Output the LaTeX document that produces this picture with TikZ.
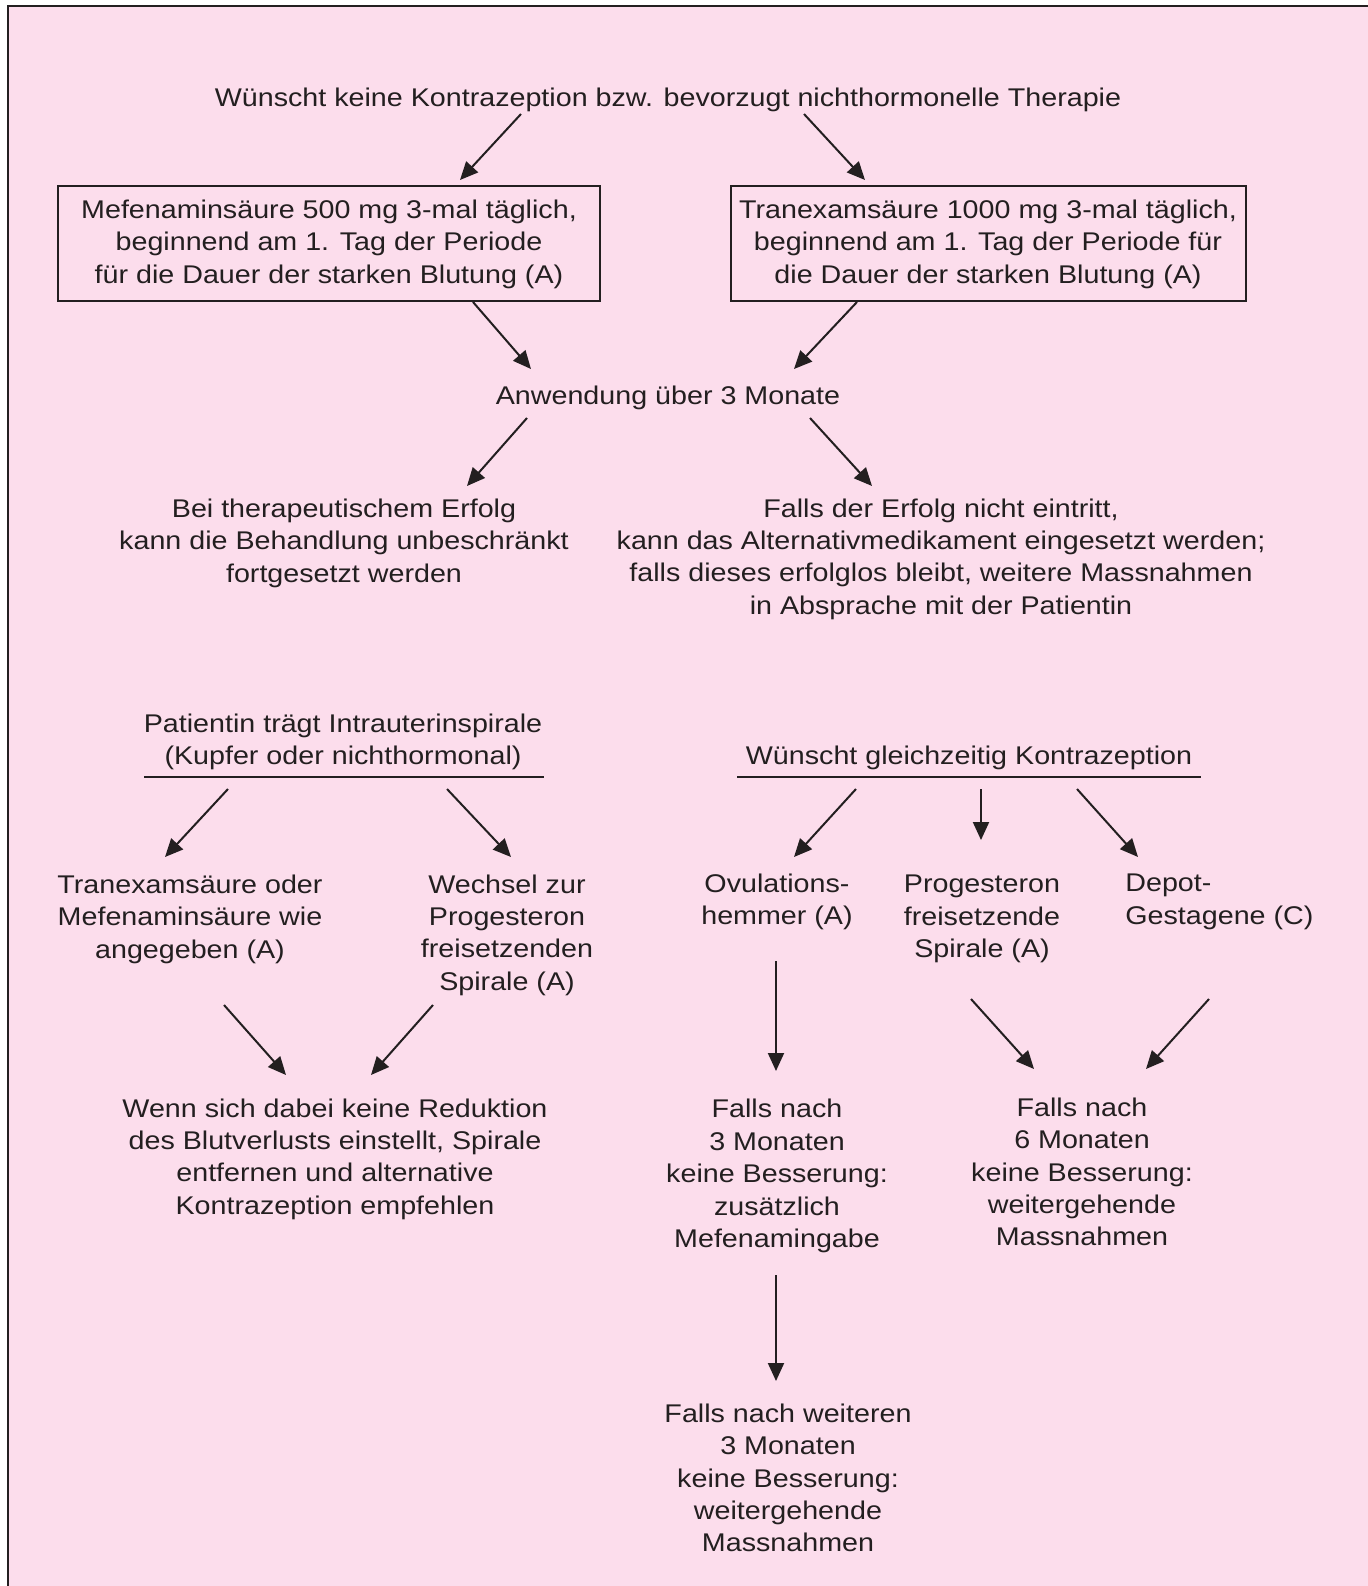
\documentclass[tikz,border=0pt]{standalone}
\usepackage{fontspec}
\setmainfont{Liberation Sans}[FakeStretch=1.12]
\usetikzlibrary{arrows.meta}
\definecolor{bgpink}{RGB}{252,221,236}
\definecolor{ink}{RGB}{35,31,32}
\tikzset{
  txt/.style={font=\fontsize{12.8pt}{16.2pt}\selectfont, text=ink, align=center, inner sep=0pt},
  boxed/.style={txt, draw=ink, line width=1pt, minimum height=57.5pt},
  arr/.style={draw=ink, line width=1pt, -{Triangle[length=9pt,width=8pt]}},
  rule/.style={draw=ink, line width=1pt}
}
\begin{document}
\begin{tikzpicture}[x=0.5pt,y=-0.5pt]
\useasboundingbox (0,0) rectangle (1368,1586);
\fill[white] (0,0) rectangle (1368,1586);
\fill[bgpink] (8,6) rectangle (1368,1586);
\draw[rule] (1368,6) -- (8,6) -- (8,1586);

% top section
\node[txt] (title) at (668,100) {Wünscht keine Kontrazeption bzw. bevorzugt nichthormonelle Therapie};
\node[boxed, minimum width=271pt] (mef) at (329,243) {};
\node[txt] (meft) at (329,244) {Mefenaminsäure 500 mg 3-mal täglich,\\beginnend am 1. Tag der Periode\\für die Dauer der starken Blutung (A)};
\node[boxed, minimum width=257.5pt] (tra) at (988,243) {};
\node[txt] (trat) at (988,244) {Tranexamsäure 1000 mg 3-mal täglich,\\beginnend am 1. Tag der Periode für\\die Dauer der starken Blutung (A)};
\node[txt] (anw) at (668,398) {Anwendung über 3 Monate};
\node[txt] (erfolg) at (344,543) {Bei therapeutischem Erfolg\\kann die Behandlung unbeschränkt\\fortgesetzt werden};
\node[txt] (nerfolg) at (941,559) {Falls der Erfolg nicht eintritt,\\kann das Alternativmedikament eingesetzt werden;\\falls dieses erfolglos bleibt, weitere Massnahmen\\in Absprache mit der Patientin};

\coordinate (t1) at (521,114); \coordinate (m1) at (460,180);
\coordinate (t2) at (804,114); \coordinate (m2) at (865,180);
\coordinate (b1) at (473,302); \coordinate (n1) at (531,369);
\coordinate (b2) at (857,302); \coordinate (n2) at (794,369);
\coordinate (w1) at (527,418); \coordinate (e1) at (467,486);
\coordinate (w2) at (810,418); \coordinate (e2) at (872,486);
\draw[arr] (t1) -- (m1);
\draw[arr] (t2) -- (m2);
\draw[arr] (b1) -- (n1);
\draw[arr] (b2) -- (n2);
\draw[arr] (w1) -- (e1);
\draw[arr] (w2) -- (e2);

% lower left section
\node[txt] (iup) at (343,742) {Patientin trägt Intrauterinspirale\\(Kupfer oder nichthormonal)};
\coordinate (ul1) at (144,777); \coordinate (ul2) at (544,777);
\draw[rule] (ul1) -- (ul2);
\node[txt] (tranmef) at (190,919) {Tranexamsäure oder\\Mefenaminsäure wie\\angegeben (A)};
\node[txt] (wechsel) at (507,935) {Wechsel zur\\Progesteron\\freisetzenden\\Spirale (A)};
\node[txt] (wenn) at (335,1159) {Wenn sich dabei keine Reduktion\\des Blutverlusts einstellt, Spirale\\entfernen und alternative\\Kontrazeption empfehlen};
\coordinate (i1) at (228,789); \coordinate (j1) at (165,857);
\coordinate (i2) at (447,789); \coordinate (j2) at (511,857);
\coordinate (k1) at (224,1005); \coordinate (l1) at (286,1075);
\coordinate (k2) at (433,1005); \coordinate (l2) at (371,1075);
\draw[arr] (i1) -- (j1);
\draw[arr] (i2) -- (j2);
\draw[arr] (k1) -- (l1);
\draw[arr] (k2) -- (l2);

% lower right section
\node[txt] (kontra) at (969,758) {Wünscht gleichzeitig Kontrazeption};
\coordinate (ur1) at (737,777); \coordinate (ur2) at (1201,777);
\draw[rule] (ur1) -- (ur2);
\node[txt] (ovu) at (777,902) {Ovulations-\\hemmer (A)};
\node[txt] (prog) at (982,919) {Progesteron\\freisetzende\\Spirale (A)};
\node[txt, align=left, anchor=west] (depot) at (1125,902) {Depot-\\Gestagene (C)};
\node[txt] (f3) at (777,1176) {Falls nach\\3 Monaten\\keine Besserung:\\zusätzlich\\Mefenamingabe};
\node[txt] (f6) at (1082,1172) {Falls nach\\6 Monaten\\keine Besserung:\\weitergehende\\Massnahmen};
\node[txt] (fw) at (788,1478) {Falls nach weiteren\\3 Monaten\\keine Besserung:\\weitergehende\\Massnahmen};
\coordinate (p1) at (856,789); \coordinate (q1) at (794,857);
\coordinate (p2) at (981,789); \coordinate (q2) at (981,840);
\coordinate (p3) at (1077,789); \coordinate (q3) at (1138,857);
\coordinate (r1) at (776,961); \coordinate (s1) at (776,1071);
\coordinate (r2) at (971,999); \coordinate (s2) at (1034,1069);
\coordinate (r3) at (1209,999); \coordinate (s3) at (1146,1069);
\coordinate (r4) at (776,1275); \coordinate (s4) at (776,1381);
\draw[arr] (p1) -- (q1);
\draw[arr] (p2) -- (q2);
\draw[arr] (p3) -- (q3);
\draw[arr] (r1) -- (s1);
\draw[arr] (r2) -- (s2);
\draw[arr] (r3) -- (s3);
\draw[arr] (r4) -- (s4);
\end{tikzpicture}
\end{document}
